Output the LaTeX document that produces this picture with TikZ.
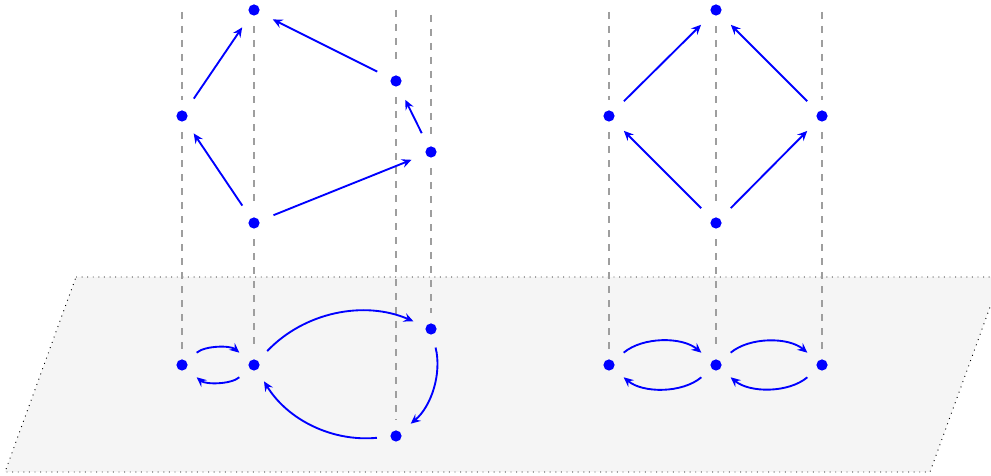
\documentclass[tikz,border=0pt]{standalone}
\usetikzlibrary{arrows.meta}
\tikzset{
  dot/.style={circle,fill=blue,inner sep=0pt,minimum size=4.8pt},
  proj/.style={dashed,draw=black!38,line width=0.45pt,shorten >=4.3pt},
  projb/.style={proj,shorten <=4.3pt},
  arr/.style={draw=blue,thick,-{Stealth[length=4.2pt,width=3.8pt,inset=1.5pt]},shorten >=6.4pt,shorten <=6.4pt},
  carr/.style={arr,shorten >=5.6pt,shorten <=5.6pt},
  plane/.style={fill=black!4,draw=black,dotted,line width=0.4pt}
}
\begin{document}
\begin{tikzpicture}[x=0.4286pt,y=0.4286pt]
\useasboundingbox (0,0) rectangle (991,476);
\clip (0,0) rectangle (991,476);
% plane
\draw[plane] (76,199) -- (1001,199) -- (930,4) -- (5,4) -- cycle;
% upper left graph
\node[dot] (A) at (254,466) {};
\node[dot] (B) at (182,360) {};
\node[dot] (C) at (254,253) {};
\node[dot] (D) at (396,395) {};
\node[dot] (E) at (431,324) {};
% lower left
\node[dot] (P1) at (182,111) {};
\node[dot] (P2) at (254,111) {};
\node[dot] (P3) at (431,147) {};
\node[dot] (P4) at (396,40) {};
% upper right graph
\node[dot] (Ar) at (716,466) {};
\node[dot] (Br) at (609,360) {};
\node[dot] (Cr) at (716,253) {};
\node[dot] (Dr) at (822,360) {};
% lower right
\node[dot] (Q1) at (609,111) {};
\node[dot] (Q2) at (716,111) {};
\node[dot] (Q3) at (822,111) {};
% top ends of projection lines
\coordinate (tB) at (182,464);
\coordinate (tD) at (396,466);
\coordinate (tE) at (431,461);
\coordinate (tBr) at (609,464);
\coordinate (tDr) at (822,464);
% projection lines
\draw[proj] (tB) -- (B);
\draw[projb] (B) -- (P1);
\draw[projb] (A) -- (C);
\draw[projb] (C) -- (P2);
\draw[proj] (tD) -- (D);
\draw[projb] (D) -- (P4);
\draw[proj] (tE) -- (E);
\draw[projb] (E) -- (P3);
\draw[proj] (tBr) -- (Br);
\draw[projb] (Br) -- (Q1);
\draw[projb] (Ar) -- (Cr);
\draw[projb] (Cr) -- (Q2);
\draw[proj] (tDr) -- (Dr);
\draw[projb] (Dr) -- (Q3);
% upper left edges
\draw[arr] (B) -- (A);
\draw[arr] (C) -- (B);
\draw[arr] (C) -- (E);
\draw[arr] (E) -- (D);
\draw[arr] (D) -- (A);
% upper right edges
\draw[arr] (Br) -- (Ar);
\draw[arr] (Dr) -- (Ar);
\draw[arr] (Cr) -- (Br);
\draw[arr] (Cr) -- (Dr);
% lower left edges
\draw[carr] (P1) to[bend left=40] (P2);
\draw[carr] (P2) to[bend left=40] (P1);
\draw[carr] (P2) to[bend left=35] (P3);
\draw[carr] (P3) to[bend left=32] (P4);
\draw[carr] (P4) to[bend left=32] (P2);
% lower right edges
\draw[carr] (Q1) to[bend left=40] (Q2);
\draw[carr] (Q2) to[bend left=40] (Q1);
\draw[carr] (Q2) to[bend left=40] (Q3);
\draw[carr] (Q3) to[bend left=40] (Q2);
\end{tikzpicture}
\end{document}
